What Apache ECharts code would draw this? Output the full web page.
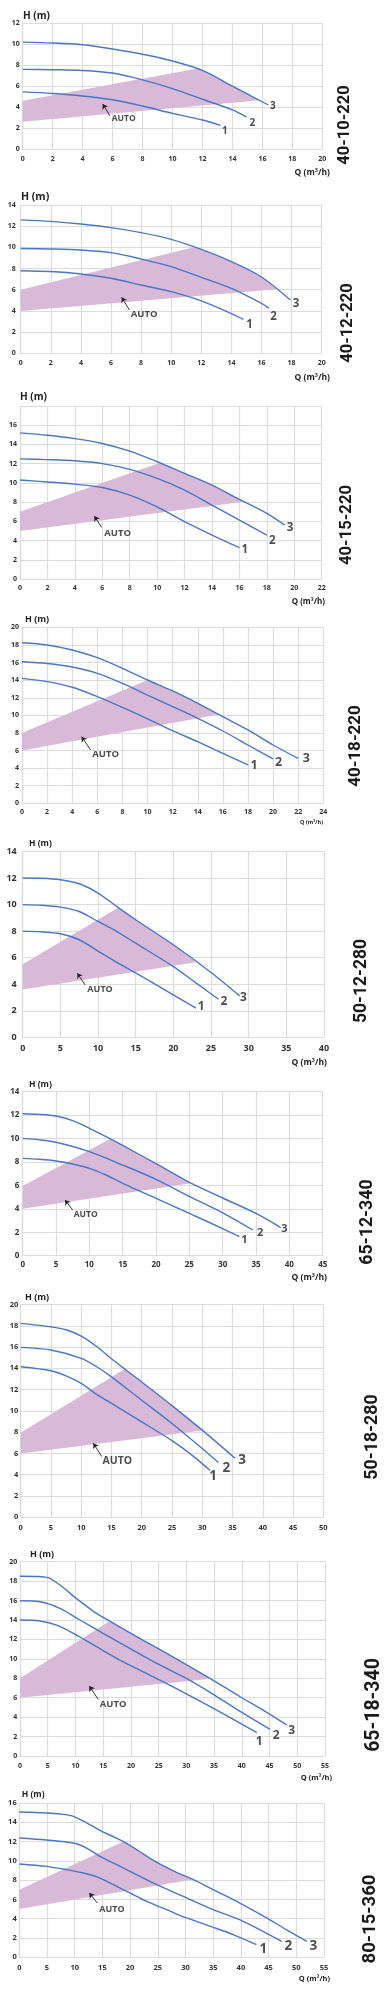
<!DOCTYPE html>
<html><head><meta charset="utf-8">
<script src="https://cdn.jsdelivr.net/npm/echarts@6/dist/echarts.min.js"></script>
<style>html,body{margin:0;padding:0;background:#fff}#c{width:384px;height:2000px}</style>
</head><body><div id="c"></div>
<script>
// ---------- DATA ----------
const titles = ['40-10-220','40-12-220','40-15-220','40-18-220','50-12-280','65-12-340','50-18-280','65-18-340','80-15-360'];
const xMax  = [20,20,22,24,40,45,50,55,55];
const xStep = [2,2,2,2,5,5,5,5,5];
const yMax  = [12,14,18,20,14,14,20,20,16];
const yStep = [2,2,2,2,2,2,2,2,2];
const hideYMax = [false,false,true,false,false,false,false,false,false];
const showQ = [true,true,true,true,true,true,false,true,true];
const curveNames = ['1','2','3'];

// panel 1 : 40-10-220
const m1_c1 = [[0,5.45],[2,5.3],[4,5.06],[6,4.7],[8,4.1],[10,3.4],[12,2.77],[13.2,2.25]];
const m1_c2 = [[0,7.6],[2,7.57],[4,7.5],[6,7.25],[8,6.6],[10,5.77],[12,4.75],[14,3.73],[14.95,3.05]];
const m1_c3 = [[0,10.2],[2,10.12],[4,9.95],[6,9.55],[8,9.05],[10,8.4],[12,7.5],[14,6.0],[16.4,4.2]];
const m1_fill = [[0,2.6],[0,4.6],[11.6,7.65],[15.85,4.65]];
const m1_num = [[13.5,1.75],[15.33,2.45],[16.7,4.05]];
const m1_auto = [6.74,2.87];
const m1_arrow = [[5.83,3.15],[5.34,4.3]];

// panel 2 : 40-12-220
const m2_c1 = [[0,7.8],[2,7.72],[4,7.49],[6,7.08],[8,6.45],[10,5.82],[12,4.95],[14,3.75],[14.8,3.2]];
const m2_c2 = [[0,9.9],[2,9.85],[4,9.75],[6,9.5],[8,8.9],[10,8.18],[12,7.17],[14,6.13],[16,4.72],[16.5,4.25]];
const m2_c3 = [[0,12.6],[2,12.45],[4,12.2],[6,11.86],[8,11.39],[10,10.76],[12,9.81],[14,8.65],[16,7.2],[17.9,5.05]];
const m2_fill = [[0,4.0],[0,6.0],[11.5,10.0],[17.0,6.05]];
const m2_num = [[15.2,2.67],[16.8,3.46],[18.3,4.7]];
const m2_auto = [8.2,3.68];
const m2_arrow = [[7.22,4.09],[6.71,5.28]];

// panel 3 : 40-15-220
const m3_c1 = [[0,10.3],[2,10.1],[4,9.87],[6,9.52],[8,8.73],[10,7.5],[12,5.96],[14,4.57],[16,3.26]];
const m3_c2 = [[0,12.5],[2,12.42],[4,12.3],[6,12.0],[8,11.4],[10,10.46],[12,9.25],[14,7.69],[16,6.13],[18,4.57]];
const m3_c3 = [[0,15.2],[2,14.95],[4,14.6],[6,14.1],[8,13.3],[10,12.2],[12,10.98],[14,9.77],[16,8.28],[18,6.82],[19.3,5.6]];
const m3_fill = [[0,5.0],[0,7.0],[10.1,12.05],[16.3,8.05]];
const m3_num = [[16.4,3.0],[18.4,3.98],[19.7,5.37]];
const m3_auto = [7.12,4.74];
const m3_arrow = [[5.96,5.37],[5.42,6.55]];

// panel 4 : 40-18-220
const m4_c1 = [[0,14.2],[2,13.83],[4,13.19],[6,12.13],[8,10.9],[10,9.6],[12,8.26],[14,7.0],[16,5.68],[18,4.36]];
const m4_c2 = [[0,16.1],[2,15.9],[4,15.5],[6,14.78],[8,13.64],[10,12.3],[12,11.0],[14,9.66],[16,8.22],[18,6.63],[20,5.04]];
const m4_c3 = [[0,18.25],[2,18.0],[4,17.43],[6,16.56],[8,15.35],[10,14.02],[12,12.77],[14,11.37],[16,9.85],[18,8.34],[20,6.63],[22,5.1]];
const m4_fill = [[0,6.0],[0,8.0],[9.95,14.0],[15.65,10.1]];
const m4_num = [[18.48,4.36],[20.44,4.62],[22.64,5.08]];
const m4_auto = [6.66,5.61];
const m4_arrow = [[5.47,6.06],[4.75,7.58]];

// panel 5 : 50-12-280
const m5_c1 = [[0,8.0],[2.5,7.95],[5,7.8],[7.5,7.35],[10,6.5],[12.5,5.65],[15,4.85],[20,3.2],[23,2.2]];
const m5_c2 = [[0,10.0],[2.5,9.95],[5,9.81],[7.5,9.48],[10,8.73],[12.5,7.97],[15,7.09],[20,5.33],[23,4.1],[26,2.87]];
const m5_c3 = [[0,12.0],[2.5,11.98],[5,11.87],[7.5,11.57],[10,10.87],[12.5,9.85],[15,8.86],[20,6.97],[25,4.88],[28.8,3.12]];
const m5_fill = [[0,3.6],[0,5.5],[12.6,9.75],[23,5.65]];
const m5_num = [[23.7,2.34],[26.7,2.72],[29.3,3.02]];
const m5_auto = [10.27,3.62];
const m5_arrow = [[8.27,3.95],[7.26,4.83]];

// panel 6 : 65-12-340
const m6_c1 = [[0,8.3],[2.5,8.22],[5,8.08],[7.5,7.82],[10,7.45],[12.5,6.88],[15,6.17],[20,4.89],[25,3.61],[30,2.3],[32.5,1.62]];
const m6_c2 = [[0,10.0],[2.5,9.88],[5,9.67],[10,8.87],[15,7.73],[20,6.51],[25,5.05],[30,3.65],[34.5,2.19]];
const m6_c3 = [[0,12.1],[2.5,12.05],[5,11.91],[7.5,11.52],[10,10.86],[12.5,10.15],[15,9.4],[20,7.85],[25,6.25],[30,4.92],[35,3.6],[38.7,2.4]];
const m6_fill = [[0,4.0],[0,5.95],[13.1,9.95],[25.2,6.18]];
const m6_num = [[33.25,1.31],[35.6,1.96],[39.25,2.25]];
const m6_auto = [9.45,3.47];
const m6_arrow = [[7.5,3.9],[6.35,4.75]];

// panel 7 : 50-18-280
const m7_c1 = [[0,14.15],[5,13.77],[7.6,13.27],[10,12.58],[12.55,11.55],[15,10.7],[20,8.97],[25,7.2],[28.5,5.75],[31.3,4.4]];
const m7_c2 = [[0,15.97],[5,15.72],[10,14.93],[12.55,14.15],[15,13.2],[20,11.0],[25,8.82],[30,6.46],[32.65,5.15]];
const m7_c3 = [[0,18.23],[5,17.9],[7.6,17.6],[10,17.03],[12.55,16.05],[15,14.9],[17.5,13.8],[20,12.72],[25,10.5],[30,8.19],[35.4,5.55]];
const m7_fill = [[0,6.0],[0,7.94],[17.2,13.93],[30,8.15]];
const m7_num = [[31.8,3.83],[34.0,4.64],[36.6,5.4]];
const m7_auto = [15.97,5.33];
const m7_arrow = [[13.4,5.71],[12.0,6.96]];

// panel 8 : 65-18-340
const m8_c1 = [[0,14.0],[3.6,13.9],[6.6,13.48],[10.2,12.45],[13.8,11.25],[18,9.88],[22.8,8.51],[27,7.3],[34.9,4.9],[42.7,2.4]];
const m8_c2 = [[0,15.98],[3.6,15.88],[7.2,15.2],[10.8,14.0],[15,12.62],[19.8,11.08],[25.2,9.37],[30,7.99],[35,6.3],[39.1,4.8],[45.1,2.75]];
const m8_c3 = [[0,18.5],[4.8,18.39],[7.2,17.6],[10.2,16.2],[13.8,14.68],[17.4,13.48],[21,12.28],[27,10.39],[34.25,7.99],[39.7,6.1],[44.2,4.6],[48.1,3.2]];
const m8_fill = [[0,6.0],[0,8.0],[16.1,13.88],[34.5,7.95]];
const m8_num = [[43.15,1.47],[46.2,2.06],[49.0,2.6]];
const m8_auto = [16.8,5.32];
const m8_arrow = [[14.1,5.83],[12.5,7.2]];

// panel 9 : 80-15-360
const m9_c1 = [[0,9.68],[4.93,9.43],[8.54,9.09],[11.55,8.74],[14.56,8.22],[17,7.53],[19.4,6.84],[23,5.8],[26.6,4.94],[30.2,4.08],[35,3.11],[38.6,2.35],[42.8,1.31]];
const m9_c2 = [[0,12.37],[4.93,12.16],[9.75,11.85],[12.15,11.33],[14.56,10.47],[17.6,9.6],[20.6,8.74],[24.8,7.53],[29.6,6.32],[35,4.94],[40.4,3.73],[47.35,1.66]];
const m9_c3 = [[0,15.07],[4.93,14.96],[7.34,14.86],[9.75,14.62],[12.15,13.95],[14.56,13.15],[17,12.5],[18.8,12.0],[21.5,11.05],[24.2,10.05],[28.4,8.8],[31.4,8.05],[35.6,6.84],[39.8,5.63],[44,4.3],[48.25,2.85],[51.9,1.66]];
const m9_fill = [[0,5.0],[0,7.0],[18.8,12.0],[31.3,8.07]];
const m9_num = [[44.05,0.8],[48.55,1.17],[53.07,1.2]];
const m9_auto = [16.73,5.01];
const m9_arrow = [[14.08,5.63],[12.63,6.67]];

// ---------- LAYOUT / STYLE ----------
const gridL = [22.7,20.7,20,22,22.7,22.7,20.7,20,19.3];
const gridT = [23.3,205,406,627.4,851.5,1091.5,1304.5,1561.7,1803];
const gridW = [299.6,301,301.7,301.3,301.3,300,302.6,305,304.7];
const gridH = [125.7,148.3,173,175.9,185.8,164.2,212.8,194.3,154.3];
const tickFont = [7,7,7,7,9,8,7.5,7,7.5];
const yLabMargin = [3,5,3,3,6,3.4,2.4,2.7,2.6];
const xLabMargin = [6,6.5,5,5.5,7,5,7,6,6.5];
const hX = [23,21,20,25,29,29,25,30,21.7];
const hY = [16,197,397,619,844,1085,1297,1554,1795];
const hSize = [10,10.5,10,9,8.5,8.5,9,9,8.5];
const qX = [330,330,325,323,327,327,0,332,330];
const qY = [173,378,602,822,1063,1278,0,1778,1979];
const qSize = [8.5,8.5,8,5.5,8.5,8.5,0,7.5,7.5];
const tX = [345,348,347,356,362,368,373,374,370];
const tY = [125,323,525,746,981,1222,1437,1705,1919];
const tSize = [16.5,16.5,16.7,17,17.5,17.8,17.8,19.5,18.5];
const numSize = [10,11.5,11.5,12.5,12,11,13.5,12,13.5];
const autoSize = [8.5,9.5,9.5,9.5,9,8.5,10.5,9.5,9];

const LINE = '#4a76c6';
const FILL = '#d8b9d8';
const GRIDC = '#dcdcdc';
const TXT = '#222';
const FF = '"Open Sans", "DejaVu Sans", sans-serif';

const panelData = [
  [m1_c1,m1_c2,m1_c3,m1_fill,m1_num,m1_auto,m1_arrow],
  [m2_c1,m2_c2,m2_c3,m2_fill,m2_num,m2_auto,m2_arrow],
  [m3_c1,m3_c2,m3_c3,m3_fill,m3_num,m3_auto,m3_arrow],
  [m4_c1,m4_c2,m4_c3,m4_fill,m4_num,m4_auto,m4_arrow],
  [m5_c1,m5_c2,m5_c3,m5_fill,m5_num,m5_auto,m5_arrow],
  [m6_c1,m6_c2,m6_c3,m6_fill,m6_num,m6_auto,m6_arrow],
  [m7_c1,m7_c2,m7_c3,m7_fill,m7_num,m7_auto,m7_arrow],
  [m8_c1,m8_c2,m8_c3,m8_fill,m8_num,m8_auto,m8_arrow],
  [m9_c1,m9_c2,m9_c3,m9_fill,m9_num,m9_auto,m9_arrow]
];

const grids = [], xAxes = [], yAxes = [], series = [], graphics = [];

panelData.forEach((pd, i) => {
  const [c1, c2, c3, fill, num, auto, arrow] = pd;
  grids.push({left: gridL[i], top: gridT[i], width: gridW[i], height: gridH[i], containLabel: false, outerBoundsMode: 'none'});
  const lab = {fontSize: tickFont[i], fontWeight: 'bold', color: '#333', fontFamily: FF};
  xAxes.push({type: 'value', gridIndex: i, min: 0, max: xMax[i], interval: xStep[i],
    axisLine: {show: true, lineStyle: {color: GRIDC, width: 1.2}}, axisTick: {show: false},
    splitLine: {show: true, lineStyle: {color: GRIDC, width: 1.2}},
    axisLabel: Object.assign({margin: xLabMargin[i]}, lab)});
  yAxes.push({type: 'value', gridIndex: i, min: 0, max: yMax[i], interval: yStep[i],
    axisLine: {show: true, lineStyle: {color: GRIDC, width: 1.2}}, axisTick: {show: false},
    splitLine: {show: true, lineStyle: {color: GRIDC, width: 1.2}},
    axisLabel: Object.assign({margin: yLabMargin[i], showMaxLabel: !hideYMax[i]}, lab)});

  // AUTO zone polygon: left edge, vertex on curve 3, along curve 3, tip
  const poly = [fill[0], fill[1], fill[2]]
    .concat(c3.filter(p => p[0] > fill[2][0] && p[0] < fill[3][0]))
    .concat([fill[3]]);
  series.push({type: 'custom', coordinateSystem: 'cartesian2d', xAxisIndex: i, yAxisIndex: i,
    data: [[0, 0]], silent: true, z: 1,
    renderItem: (params, api) => ({type: 'polygon', shape: {points: poly.map(p => api.coord(p))}, style: {fill: FILL}})});

  [c1, c2, c3].forEach(c => series.push({type: 'line', xAxisIndex: i, yAxisIndex: i, data: c,
    smooth: 0.3, symbol: 'none', showSymbol: false, silent: true, z: 3,
    lineStyle: {color: LINE, width: 1.4}}));

  series.push({type: 'scatter', xAxisIndex: i, yAxisIndex: i, silent: true, z: 4,
    data: num.map((p, k) => ({value: p, name: curveNames[k]})), symbolSize: 1,
    itemStyle: {color: 'rgba(0,0,0,0)'},
    label: {show: true, position: 'inside', formatter: '{b}', fontSize: numSize[i], fontWeight: 'bold', color: TXT, fontFamily: FF}});

  series.push({type: 'scatter', xAxisIndex: i, yAxisIndex: i, silent: true, z: 4,
    data: [{value: auto, name: 'AUTO'}], symbolSize: 1, itemStyle: {color: 'rgba(0,0,0,0)'},
    label: {show: true, position: 'inside', formatter: '{b}', fontSize: autoSize[i], fontWeight: 'bold', color: TXT, fontFamily: FF}});

  series.push({type: 'lines', coordinateSystem: 'cartesian2d', xAxisIndex: i, yAxisIndex: i, silent: true, z: 4,
    data: [{coords: arrow}], symbol: ['none', 'arrow'], symbolSize: [1, 5],
    lineStyle: {color: TXT, width: 0.9, opacity: 1}});

  graphics.push({type: 'text', x: hX[i], y: hY[i], style: {text: 'H (m)', font: 'bold ' + hSize[i] + 'px ' + FF, fill: TXT, align: 'left', verticalAlign: 'middle'}});
  if (showQ[i]) graphics.push({type: 'text', x: qX[i], y: qY[i], style: {text: 'Q (m³/h)', font: 'bold ' + qSize[i] + 'px ' + FF, fill: TXT, align: 'right', verticalAlign: 'middle'}});
  graphics.push({type: 'text', x: tX[i], y: tY[i], rotation: Math.PI / 2, style: {text: titles[i], font: 'bold ' + tSize[i] + 'px Roboto, ' + FF, fill: '#1a1a1a', align: 'center', verticalAlign: 'middle'}});
});

const chart = echarts.init(document.getElementById('c'), null, {renderer: 'canvas'});
chart.setOption({animation: false, backgroundColor: '#fff', grid: grids, xAxis: xAxes, yAxis: yAxes, series: series, graphic: graphics});
</script></body></html>
